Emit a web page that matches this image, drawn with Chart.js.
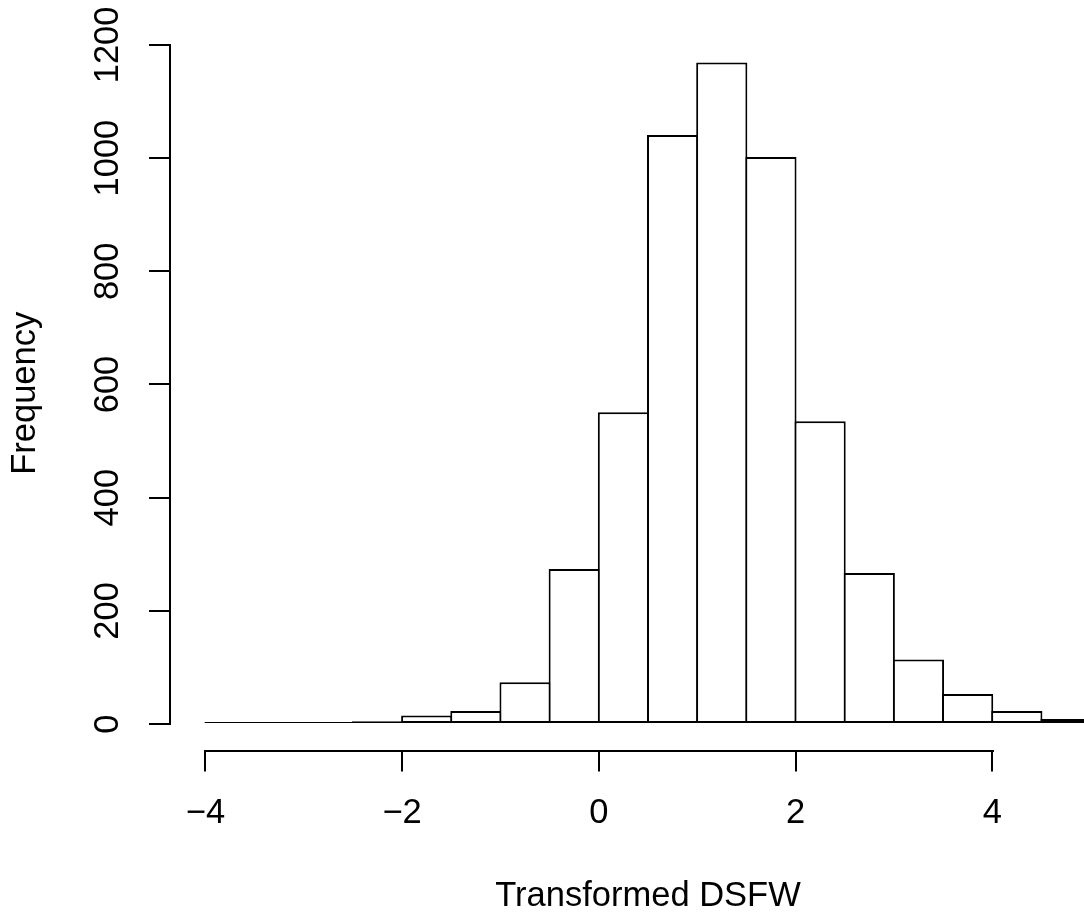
<!DOCTYPE html>
<html>
<head>
<meta charset="utf-8">
<script src="https://cdn.jsdelivr.net/npm/chart.js@4/dist/chart.umd.min.js"></script>
<style>
  html, body { margin: 0; padding: 0; overflow: hidden; background: #fff; width: 1084px; height: 914px; }
  #wrap { position: absolute; left: 0; top: 0; width: 1126px; height: 914px; }
</style>
</head>
<body>
<div id="wrap"><canvas id="c" width="1126" height="914"></canvas></div>
<script>
// ---- data ----
const binEdges = [-4, -3.5, -3, -2.5, -2, -1.5, -1, -0.5, 0, 0.5, 1, 1.5, 2, 2.5, 3, 3.5, 4, 4.5, 5];
const frequencies = [2, 1, 3, 5, 15, 23, 74, 274, 551, 1041, 1169, 1002, 535, 267, 114, 53, 23, 9];
const xTickValues = [-4, -2, 0, 2, 4];
const xTickLabels = ['\u22124', '\u22122', '0', '2', '4'];
const yTickValues = [0, 200, 400, 600, 800, 1000, 1200];
const yTickLabels = ['0', '200', '400', '600', '800', '1000', '1200'];
const xTitle = 'Transformed DSFW';
const yTitle = 'Frequency';

// R-style axis extents (4% extension of data range)
const xLo = binEdges[0], xHi = binEdges[binEdges.length - 1];
const xMin = xLo - 0.04 * (xHi - xLo), xMax = xHi + 0.04 * (xHi - xLo);
const yTop = Math.max(...frequencies);
const yMin = -0.04 * yTop, yMax = yTop * 1.04;

const FS = 34.5;
Chart.defaults.font.family = '"Liberation Sans", Arial, Helvetica, sans-serif';
Chart.defaults.color = '#000';

const rAxisLines = {
  id: 'rAxisLines',
  afterDraw(chart) {
    const { ctx, chartArea, scales: { x, y } } = chart;
    ctx.save();
    ctx.strokeStyle = '#000';
    ctx.lineWidth = 2;
    ctx.beginPath();
    const by = Math.round(chartArea.bottom - 1) + 1;
    ctx.moveTo(Math.round(x.getPixelForValue(xTickValues[0]) - 1), by);
    ctx.lineTo(Math.round(x.getPixelForValue(xTickValues[xTickValues.length - 1]) + 1) + 1, by);
    const lx = Math.round(chartArea.left - 1) + 1;
    ctx.moveTo(lx, Math.round(y.getPixelForValue(yTickValues[0])) + 1);
    ctx.lineTo(lx, Math.round(y.getPixelForValue(yTickValues[yTickValues.length - 1])) - 1);
    ctx.stroke();
    ctx.restore();
  }
};

new Chart(document.getElementById('c'), {
  type: 'bar',
  data: {
    datasets: [{
      data: frequencies.map((f, i) => ({ x: (binEdges[i] + binEdges[i + 1]) / 2, y: f })),
      backgroundColor: '#ffffff',
      borderColor: '#000000',
      borderWidth: 2,
      borderSkipped: false,
      barPercentage: 1.0407,
      categoryPercentage: 1,
      minBarLength: 2
    }]
  },
  options: {
    responsive: false,
    animation: false,
    devicePixelRatio: 1,
    layout: { padding: { top: 36, left: 0, right: 0, bottom: 0 } },
    plugins: { legend: { display: false }, tooltip: { enabled: false } },
    scales: {
      x: {
        type: 'linear',
        min: xMin, max: xMax,
        offset: false,
        afterBuildTicks: (s) => { s.ticks = xTickValues.map(v => ({ value: v })); },
        afterFit: (s) => { s.height = 163.5; },
        grid: { display: true, offset: false, drawOnChartArea: false, drawTicks: true, tickLength: 21, color: '#000', lineWidth: 2 },
        border: { display: false },
        ticks: {
          autoSkip: false, maxRotation: 0, minRotation: 0, padding: 21,
          font: { size: FS }, color: '#000',
          callback: (v, i) => xTickLabels[i]
        },
        title: { display: true, text: xTitle, font: { size: FS, lineHeight: 1 }, padding: { top: 0, bottom: 0 }, color: '#000' }
      },
      y: {
        type: 'linear',
        min: yMin, max: yMax,
        afterBuildTicks: (s) => { s.ticks = yTickValues.map(v => ({ value: v })); },
        afterFit: (s) => { s.width = 170; },
        grid: { display: true, drawOnChartArea: false, drawTicks: true, tickLength: 21, color: '#000', lineWidth: 2 },
        border: { display: false },
        ticks: {
          autoSkip: false, minRotation: 90, maxRotation: 90, crossAlign: 'center', padding: 2,
          font: { size: FS }, color: '#000',
          callback: (v, i) => yTickLabels[i]
        },
        title: { display: true, text: yTitle, font: { size: FS, lineHeight: 1 }, padding: { top: 8.5, bottom: 0 }, color: '#000' }
      }
    }
  },
  plugins: [rAxisLines]
});
</script>
</body>
</html>
